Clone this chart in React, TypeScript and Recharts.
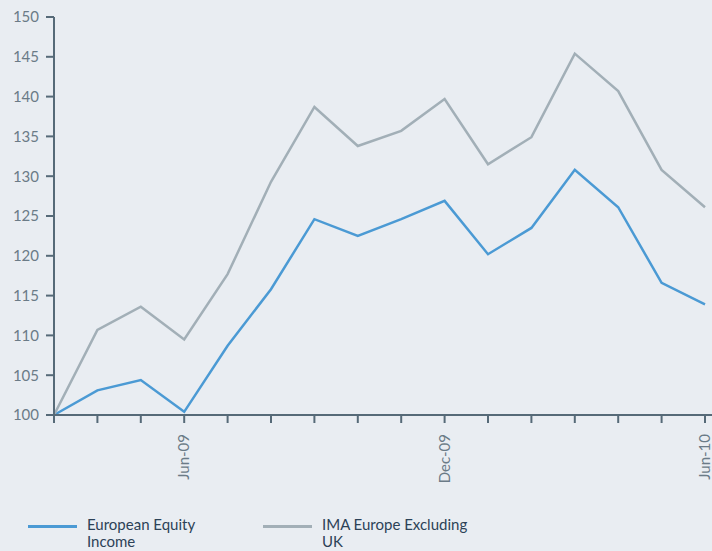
import { LineChart, Line, XAxis, YAxis, Legend } from 'recharts';

const months = [
  'Mar-09', 'Apr-09', 'May-09', 'Jun-09', 'Jul-09', 'Aug-09', 'Sep-09', 'Oct-09',
  'Nov-09', 'Dec-09', 'Jan-10', 'Feb-10', 'Mar-10', 'Apr-10', 'May-10', 'Jun-10',
];
const equityIncome = [100, 103.1, 104.4, 100.4, 108.7, 115.8, 124.6, 122.5, 124.6, 126.9, 120.2, 123.5, 130.8, 126.1, 116.6, 113.9];
const imaEurope = [100, 110.7, 113.6, 109.5, 117.7, 129.3, 138.7, 133.8, 135.7, 139.7, 131.5, 134.9, 145.4, 140.7, 130.8, 126.1];
const shownLabels = ['Jun-09', 'Dec-09', 'Jun-10'];
const yTicks = [100, 105, 110, 115, 120, 125, 130, 135, 140, 145, 150];

const series = [
  { key: 'equity', name: ['European Equity', 'Income'], color: '#4b9ad4' },
  { key: 'ima', name: ['IMA Europe Excluding', 'UK'], color: '#a2afb7' },
];

const data = months.map((m, i) => ({ month: m, equity: equityIncome[i], ima: imaEurope[i] }));

const axisColor = '#566a78';
const font = 'Lato, "Open Sans", sans-serif';

function MonthTick({ x, y, payload }: any) {
  if (!shownLabels.includes(payload.value)) return null;
  return (
    <text
      x={x + 5}
      y={y + 9}
      transform={`rotate(-90, ${x + 5}, ${y + 9})`}
      textAnchor="end"
      fill="#6b7b87"
      fontSize={15}
      fontFamily={font}
    >
      {payload.value}
    </text>
  );
}

function LegendBox() {
  return (
    <div style={{ position: 'relative', height: 60 }}>
      {series.map((s, i) => (
        <div key={s.key} style={{ position: 'absolute', left: 28 + i * 235, top: 0 }}>
          <div style={{ position: 'absolute', left: 0, top: 34, width: 49, height: 2.5, background: s.color }} />
          <div
            style={{
              position: 'absolute',
              left: 59,
              top: 25,
              whiteSpace: 'nowrap',
              fontFamily: font,
              fontSize: 15,
              lineHeight: '17px',
              color: '#2c4257',
            }}
          >
            {s.name[0]}
            <br />
            {s.name[1]}
          </div>
        </div>
      ))}
    </div>
  );
}

export default function App() {
  return (
    <div style={{ position: 'absolute', left: 0, top: 0, width: 712, height: 551, background: '#e9edf2' }}>
      <LineChart width={712} height={551} data={data} margin={{ top: 17, right: 0, left: 0, bottom: 0 }}>
        <XAxis
          dataKey="month"
          interval={0}
          padding={{ left: 0, right: 7 }}
          stroke={axisColor}
          strokeWidth={2}
          tickSize={8}
          tick={<MonthTick />}
          height={76}
        />
        <YAxis
          domain={[100, 150]}
          ticks={yTicks}
          interval={0}
          width={54}
          stroke={axisColor}
          strokeWidth={2}
          tickSize={8}
          tickMargin={7}
          tick={{ fill: '#6b7b87', fontSize: 15, fontFamily: font }}
        />
        <Legend verticalAlign="bottom" height={60} content={() => <LegendBox />} />
        {series.map((s) => (
          <Line
            key={s.key}
            dataKey={s.key}
            type="linear"
            stroke={s.color}
            strokeWidth={2.5}
            dot={false}
            isAnimationActive={false}
          />
        ))}
      </LineChart>
    </div>
  );
}
